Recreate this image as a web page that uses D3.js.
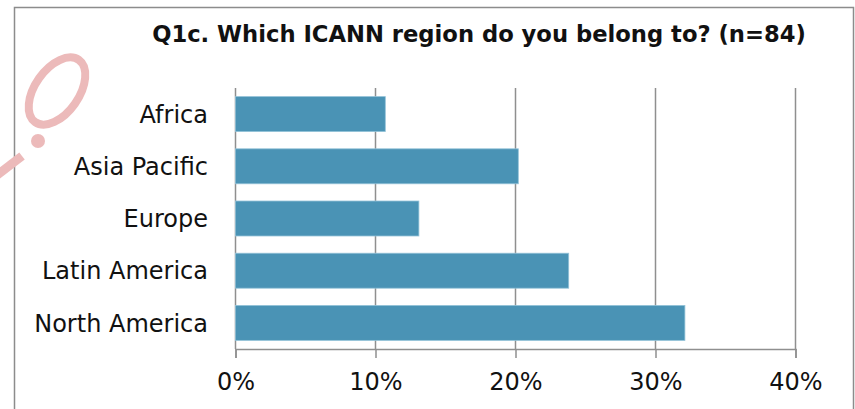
<!DOCTYPE html>
<html>
<head>
<meta charset="utf-8">
<script src="https://cdn.jsdelivr.net/npm/d3@7"></script>
<style>
  body { margin: 0; background: #fff; }
  svg text { font-family: "DejaVu Sans", "Open Sans", sans-serif; fill: #111; }
</style>
</head>
<body>
<div id="chart"></div>
<script>
// data
const regions = ['Africa', 'Asia Pacific', 'Europe', 'Latin America', 'North America'];
const shares = [10.7, 20.2, 13.1, 23.8, 32.1];
const xTicks = [0, 10, 20, 30, 40];
const title = 'Q1c. Which ICANN region do you belong to? (n=84)';

const W = 855;
const H = 409;
const MARGIN_LEFT = 235.5;
const MARGIN_RIGHT = 59.5;
const MARGIN_TOP = 88;
const PLOT_BOTTOM = 349;

const svg = d3.select('#chart').append('svg')
  .attr('width', W)
  .attr('height', H);

// chart frame
svg.append('rect')
  .attr('x', 14.5).attr('y', 7.5)
  .attr('width', 839).attr('height', 420)
  .attr('fill', 'none')
  .attr('stroke', '#8c8c8c')
  .attr('stroke-width', 1.5);

// watermark bits in the corner
const mark = svg.append('g').attr('fill', 'none').attr('stroke', '#ecbaba').attr('stroke-width', 8);
mark.append('ellipse')
  .attr('cx', 57).attr('cy', 91)
  .attr('rx', 38).attr('ry', 22)
  .attr('transform', 'rotate(-55,57,91)');
mark.append('circle').attr('cx', 38).attr('cy', 141).attr('r', 7)
  .attr('fill', '#ecbaba').attr('stroke', 'none');
mark.append('line')
  .attr('stroke-width', 9)
  .attr('x1', -4).attr('y1', 176).attr('x2', 22).attr('y2', 156);

// scales
const x = d3.scaleLinear()
  .domain([0, 40])
  .range([MARGIN_LEFT, W - MARGIN_RIGHT]);

const y = d3.scaleBand()
  .domain(regions)
  .range([MARGIN_TOP, PLOT_BOTTOM])
  .paddingInner(0.33)
  .paddingOuter(0.165);

// gridlines
svg.append('g')
  .selectAll('line')
  .data(xTicks)
  .join('line')
  .attr('x1', d => x(d)).attr('x2', d => x(d))
  .attr('y1', MARGIN_TOP).attr('y2', PLOT_BOTTOM)
  .attr('stroke', '#8f8f8f')
  .attr('stroke-width', 1.5);

// bars
svg.append('g')
  .selectAll('rect')
  .data(regions)
  .join('rect')
  .attr('x', x(0))
  .attr('y', d => y(d))
  .attr('width', (d, i) => x(shares[i]) - x(0))
  .attr('height', y.bandwidth())
  .attr('fill', '#4a93b5')
  .attr('stroke', '#93c2d8')
  .attr('stroke-width', 0.8);

// x axis
const xAxis = svg.append('g')
  .attr('transform', `translate(0,${PLOT_BOTTOM})`)
  .call(d3.axisBottom(x).tickValues(xTicks).tickSize(9).tickPadding(15).tickFormat(d => d + '%'));
xAxis.select('.domain').attr('stroke', '#8f8f8f').attr('stroke-width', 1.5);
xAxis.selectAll('.tick line').attr('stroke', '#8f8f8f').attr('stroke-width', 1.5);
xAxis.selectAll('.tick text')
  .attr('font-size', 24)
  .attr('font-family', '"DejaVu Sans", sans-serif')
  .attr('fill', '#111');

// y labels
svg.append('g')
  .selectAll('text')
  .data(regions)
  .join('text')
  .attr('x', 208)
  .attr('y', d => y(d) + y.bandwidth() / 2)
  .attr('dy', '0.36em')
  .attr('text-anchor', 'end')
  .attr('font-size', 24)
  .text(d => d);

// title, sized to span the same width as the original
const $title = svg.append('text')
  .attr('x', 479)
  .attr('y', 42)
  .attr('text-anchor', 'middle')
  .attr('font-size', 20)
  .attr('font-weight', 'bold')
  .text(title);
const tw = $title.node().getComputedTextLength();
$title.attr('font-size', Math.min(23, 20 * 654 / tw));
</script>
</body>
</html>
